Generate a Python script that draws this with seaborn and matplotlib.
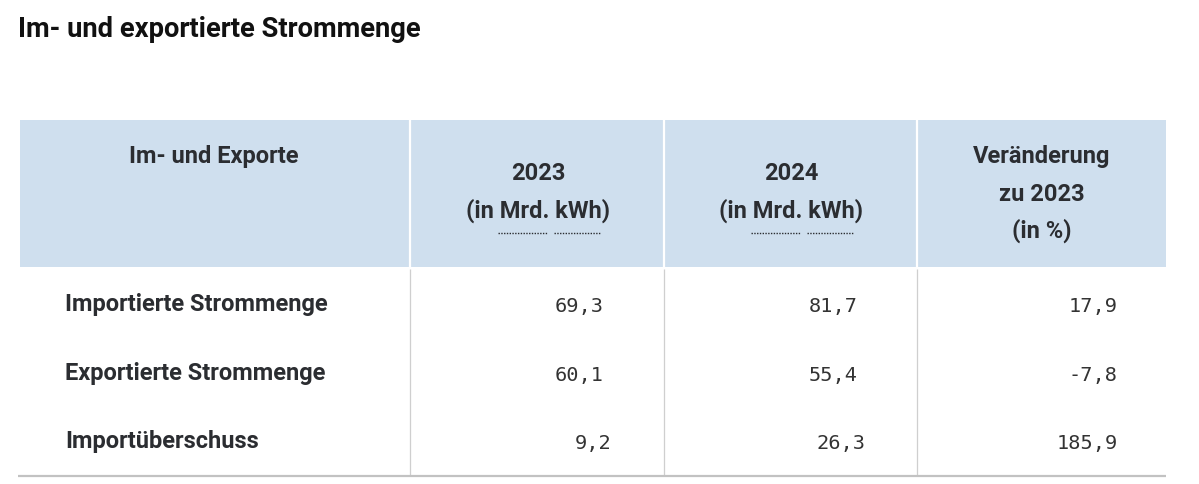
import matplotlib.pyplot as plt
import seaborn as sns

# Daten
titel = "Im- und exportierte Strommenge"
kopf_erste_spalte = "Im- und Exporte"
jahre = ["2023", "2024"]
einheit = "(in Mrd. kWh)"
kopf_veraenderung = ["Veränderung", "zu 2023", "(in %)"]
kategorien = ["Importierte Strommenge", "Exportierte Strommenge", "Importüberschuss"]
werte_2023 = [69.3, 60.1, 9.2]
werte_2024 = [81.7, 55.4, 26.3]
veraenderung = [17.9, -7.8, 185.9]

sns.set_theme(style="white")
plt.rcParams['font.family'] = ['Roboto', 'DejaVu Sans']

BLAU = '#cfdfee'
TEXT = '#2b2d31'


def de(v):
    return f"{v:.1f}".replace(".", ",")


fig = plt.figure(figsize=(11.99, 4.84), dpi=100)
ax = fig.add_axes([0, 0, 1, 1])
ax.set_xlim(0, 1199)
ax.set_ylim(484, 0)
ax.axis('off')

# Spaltengrenzen (Pixel)
links, rechts = 20, 1166
trenner = [410, 664, 917]
kopf_oben, kopf_unten = 120, 267
zeilen_y = [311, 380, 448]

ax.text(18, 37, titel, fontsize=19.7, fontweight='bold', color='#111111', va='baseline')

# Kopfbereich
ax.fill_between([links, rechts], kopf_oben, kopf_unten, color=BLAU, lw=0)
ax.vlines(trenner, kopf_oben, kopf_unten, color='white', lw=1.6)
ax.vlines(trenner, kopf_unten + 2, 476, color='#cfcfcf', lw=0.9)
ax.hlines(476, 18, rechts, color='#c2c2c2', lw=1.6)

kw = dict(fontsize=17, fontweight='bold', color=TEXT, ha='center', va='baseline')
ax.text(214, 163, kopf_erste_spalte, **kw)
for xm, jahr in zip([538, 791], jahre):
    ax.text(xm, 180, jahr, **kw)
    ax.text(xm, 218, einheit, **kw)
    # gepunktete Unterstreichung unter "Mrd." und "kWh"
    ax.hlines(233, xm - 40, xm + 10, color=TEXT, lw=1, linestyles=(0, (1, 1)))
    ax.hlines(233, xm + 16, xm + 62, color=TEXT, lw=1, linestyles=(0, (1, 1)))
for zy, txt in zip([163, 201, 238], kopf_veraenderung):
    ax.text(1042, zy, txt, **kw)

# Tabellenkoerper
spalten_x = [604, 858, 1118]
for i, kat in enumerate(kategorien):
    y = zeilen_y[i]
    ax.text(65, y, kat, fontsize=17, fontweight='bold', color=TEXT, va='baseline')
    for j, (xr, reihe) in enumerate(zip(spalten_x, [werte_2023, werte_2024, veraenderung])):
        # letzte Zeile steht im Original in den Jahresspalten etwas weiter rechts
        dx = 8 if (i == 2 and j < 2) else 0
        ax.text(xr + dx, y + 1, de(reihe[i]), fontsize=14.6, family='DejaVu Sans Mono',
                color='#333333', ha='right', va='baseline')

fig.savefig('out.png', dpi=100, facecolor='white')
